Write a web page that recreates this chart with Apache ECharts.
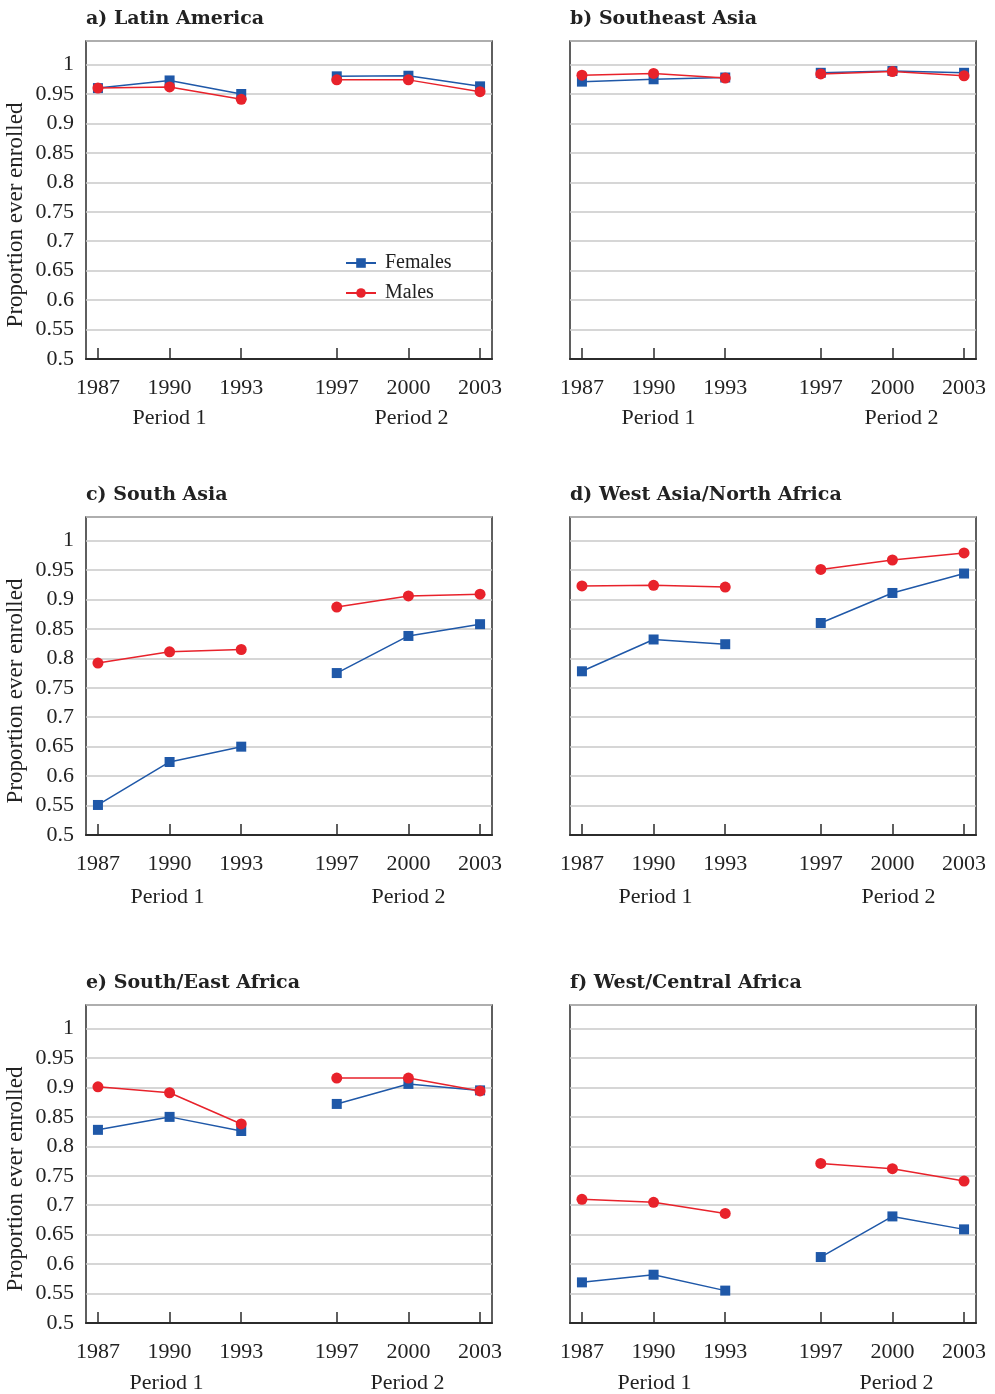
<!DOCTYPE html>
<html>
<head>
<meta charset="utf-8">
<script src="https://cdn.jsdelivr.net/npm/echarts@6/dist/echarts.min.js"></script>
<style>
html,body{margin:0;padding:0;background:#fff;}
#chart{width:995px;height:1394px;}
</style>
</head>
<body>
<div id="chart"></div>
<script>
// ---- data ----
const years = [1987, 1990, 1993, 1997, 2000, 2003];
const periodLabels = ['Period 1', 'Period 2'];
const panelTitles = ['a) Latin America', 'b) Southeast Asia', 'c) South Asia',
  'd) West Asia/North Africa', 'e) South/East Africa', 'f) West/Central Africa'];
const yAxisTitle = 'Proportion ever enrolled';
const seriesNames = ['Females', 'Males'];

const femalesLatinAmerica   = [0.960, 0.973, 0.950, 0.980, 0.981, 0.963];
const malesLatinAmerica     = [0.960, 0.962, 0.941, 0.974, 0.974, 0.954];
const femalesSoutheastAsia  = [0.971, 0.975, 0.978, 0.986, 0.989, 0.986];
const malesSoutheastAsia    = [0.982, 0.985, 0.977, 0.984, 0.988, 0.981];
const femalesSouthAsia      = [0.551, 0.624, 0.650, 0.775, 0.838, 0.858];
const malesSouthAsia        = [0.792, 0.811, 0.815, 0.887, 0.906, 0.909];
const femalesWestAsiaNAfr   = [0.778, 0.832, 0.824, 0.860, 0.911, 0.944];
const malesWestAsiaNAfr     = [0.923, 0.924, 0.921, 0.951, 0.967, 0.979];
const femalesSouthEastAfr   = [0.828, 0.850, 0.826, 0.872, 0.906, 0.895];
const malesSouthEastAfr     = [0.901, 0.891, 0.838, 0.916, 0.916, 0.894];
const femalesWestCentralAfr = [0.569, 0.582, 0.555, 0.612, 0.681, 0.659];
const malesWestCentralAfr   = [0.710, 0.705, 0.686, 0.771, 0.762, 0.741];

const femalesByPanel = [femalesLatinAmerica, femalesSoutheastAsia, femalesSouthAsia,
  femalesWestAsiaNAfr, femalesSouthEastAfr, femalesWestCentralAfr];
const malesByPanel = [malesLatinAmerica, malesSoutheastAsia, malesSouthAsia,
  malesWestAsiaNAfr, malesSouthEastAfr, malesWestCentralAfr];

// ---- layout / style ----
const FONT = '"Liberation Serif", serif';
const TFONT = '"DejaVu Serif", serif';
const BLUE = '#1f58a8';
const RED = '#e8222b';
const DARK = '#2b2b2b';
const TXT = '#222';
const lefts = [86, 570];
const tops = [41, 517, 1005];
const W = 406, H = 318;
const XMIN = 1986.5, XMAX = 2003.5;
const periodDy = [59, 62, 60];
const periodDx = [[0, 3], [5, 9], [-2, 0], [2, 6], [-3, -1], [1, 4]];

const grids = [], xAxes = [], yAxes = [], series = [], titles = [], graphics = [];

for (let p = 0; p < 6; p++) {
  const col = p % 2, row = Math.floor(p / 2);
  const left = lefts[col], top = tops[row];
  grids.push({left: left, top: top, width: W, height: H, show: true,
    borderColor: DARK, borderWidth: 1.5, backgroundColor: 'transparent'});
  xAxes.push({type: 'value', gridIndex: p, min: XMIN, max: XMAX,
    axisLine: {show: true, lineStyle: {color: DARK, width: 2}},
    axisTick: {show: true, inside: true, length: 11, customValues: years,
      lineStyle: {color: DARK, width: 1.5}},
    axisLabel: {show: true, customValues: years, margin: 18,
      color: TXT, fontFamily: FONT, fontSize: 22,
      formatter: v => String(v)},
    splitLine: {show: false}});
  yAxes.push({type: 'value', gridIndex: p, min: 0.5, max: 1.04, interval: 0.05,
    axisLine: {show: false}, axisTick: {show: false},
    axisLabel: {show: col === 0, margin: 12, color: TXT, fontFamily: FONT, fontSize: 22,
      formatter: v => (v > 1.001 ? '' : (Math.round(v * 100) / 100).toString())},
    splitLine: {show: true, lineStyle: {color: '#c9c9c9', width: 1.5}}});
  titles.push({text: panelTitles[p], left: left, top: top - 31, padding: 0,
    textStyle: {fontFamily: TFONT, fontWeight: 'bold', fontSize: 19, color: TXT}});

  const sets = [[femalesByPanel[p], seriesNames[0], 'rect', 10, BLUE],
                [malesByPanel[p], seriesNames[1], 'circle', 11, RED]];
  sets.forEach(([vals, name, sym, size, color]) => {
    for (let k = 0; k < 2; k++) {
      const data = years.slice(k * 3, k * 3 + 3).map((yr, i) => [yr, vals[k * 3 + i]]);
      series.push({type: 'line', name: name, xAxisIndex: p, yAxisIndex: p, data: data,
        symbol: sym, symbolSize: size, showSymbol: true,
        lineStyle: {color: color, width: 1.5}, itemStyle: {color: color},
        emphasis: {disabled: true}});
    }
  });

  // period labels
  const pxPerYear = W / (XMAX - XMIN);
  const centers = [1990, 2000];
  centers.forEach((c, i) => {
    graphics.push({type: 'text', x: left + (c - XMIN) * pxPerYear + periodDx[p][i],
      y: top + H + periodDy[row],
      style: {text: periodLabels[i], fill: TXT, font: '22px ' + FONT,
        textAlign: 'center', textVerticalAlign: 'middle'}});
  });
  if (col === 0) {
    graphics.push({type: 'text', x: 16, y: top + H / 2 + 15, rotation: Math.PI / 2,
      style: {text: yAxisTitle, fill: TXT, font: '23px ' + FONT,
        textAlign: 'center', textVerticalAlign: 'middle'}});
  }
}

const chart = echarts.init(document.getElementById('chart'), null, {renderer: 'canvas'});
chart.setOption({
  animation: false,
  backgroundColor: '#fff',
  title: titles,
  grid: grids,
  xAxis: xAxes,
  yAxis: yAxes,
  legend: {data: seriesNames, orient: 'vertical', left: 345, top: 253, padding: 0, itemGap: 10,
    itemWidth: 30, itemHeight: 12,
    textStyle: {fontFamily: FONT, fontSize: 20, color: TXT, padding: [0, 0, 0, 4]}},
  series: series,
  graphic: graphics
});
</script>
</body>
</html>
